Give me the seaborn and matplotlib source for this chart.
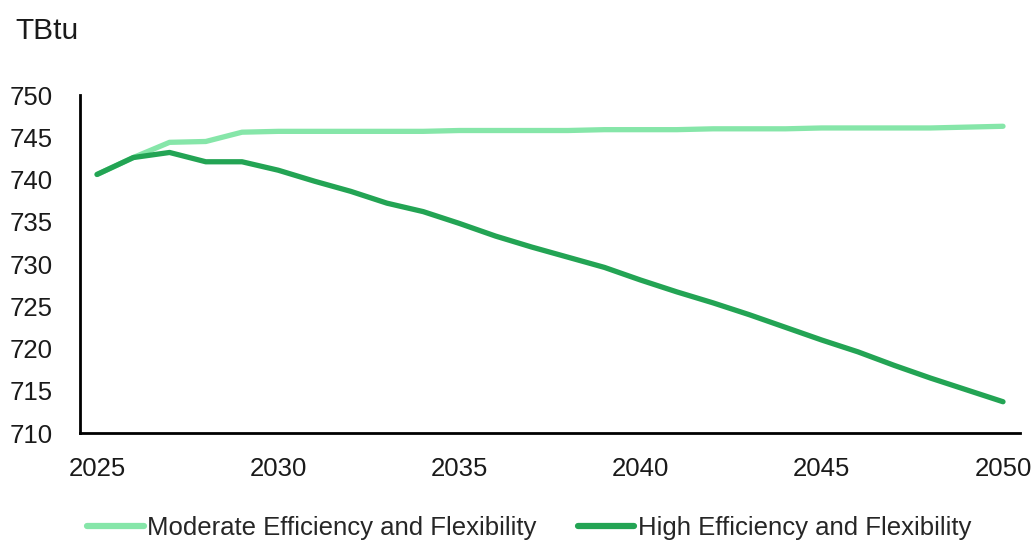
import matplotlib
matplotlib.use("Agg")
import matplotlib.pyplot as plt
import seaborn as sns
import pandas as pd

years = list(range(2025, 2051))
moderate = [740.6, 742.6, 744.4, 744.5, 745.6, 745.7, 745.7, 745.7, 745.7, 745.7,
            745.8, 745.8, 745.8, 745.8, 745.9, 745.9, 745.9, 746.0, 746.0, 746.0,
            746.1, 746.1, 746.1, 746.1, 746.2, 746.3]
high = [740.6, 742.6, 743.2, 742.1, 742.1, 741.1, 739.8, 738.6, 737.2, 736.2,
        734.8, 733.3, 732.0, 730.8, 729.6, 728.1, 726.7, 725.4, 724.0, 722.5,
        721.0, 719.6, 718.0, 716.5, 715.1, 713.7]
series_names = ["Moderate Efficiency and Flexibility", "High Efficiency and Flexibility"]
colors = ["#86E6A9", "#23A454"]
y_ticks = [710, 715, 720, 725, 730, 735, 740, 745, 750]
x_ticks = [2025, 2030, 2035, 2040, 2045, 2050]

df = pd.DataFrame({
    "Year": years * 2,
    "Value": moderate + high,
    "Scenario": [series_names[0]] * len(years) + [series_names[1]] * len(years),
})

sns.set_theme(style="white")
plt.rcParams["font.family"] = ["Liberation Sans", "DejaVu Sans"]

fig = plt.figure(figsize=(10.34, 5.42), dpi=100)
ax = fig.add_axes([0.0774, 0.2011, 0.9091, 0.6236])

sns.lineplot(data=df, x="Year", y="Value", hue="Scenario", hue_order=series_names,
             palette=colors, linewidth=3.8, ax=ax, legend=False)
for line in ax.get_lines():
    line.set_solid_capstyle("round")
    line.set_solid_joinstyle("round")

ax.set_xlim(2024.53, 2050.47)
ax.set_ylim(710, 750)
ax.set_xticks(x_ticks)
ax.set_yticks(y_ticks)
ax.tick_params(axis="both", length=0, labelsize=18.5, colors="#1a1a1a")
ax.tick_params(axis="x", pad=17)
ax.tick_params(axis="y", pad=20)
ax.set_xlabel("")
ax.set_ylabel("")

sns.despine(ax=ax, top=True, right=True)
for side in ["left", "bottom"]:
    ax.spines[side].set_color("#000000")
    ax.spines[side].set_linewidth(2.0)

fig.text(0.0145, 0.943, "TBtu", fontsize=21.5, color="#1a1a1a", va="center", ha="left")

handles = [plt.Line2D([], [], color=c, linewidth=4.5, solid_capstyle="round") for c in colors]
fig.legend(handles, series_names, loc="center", bbox_to_anchor=(0.512, 0.026),
           ncol=2, frameon=False, fontsize=18.5, handlelength=2.2, handletextpad=0.15,
           columnspacing=1.6)

fig.savefig("out.png", dpi=100)
